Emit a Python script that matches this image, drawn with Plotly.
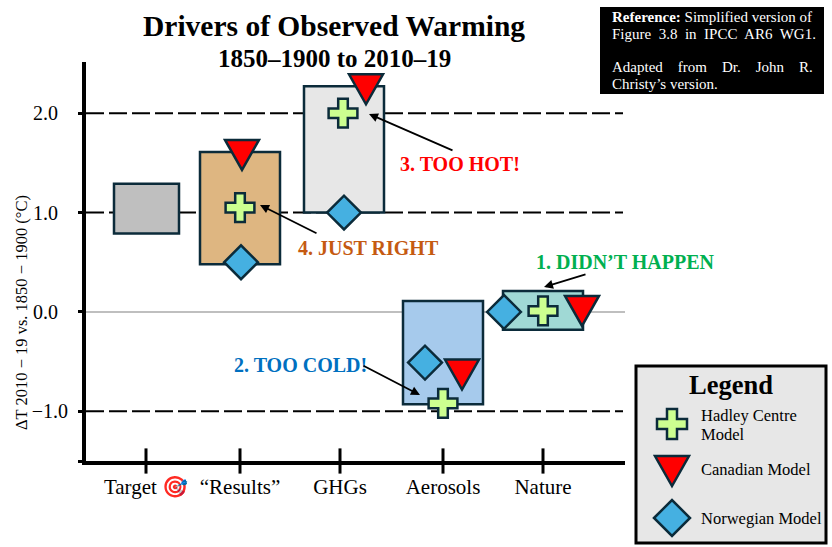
import plotly.graph_objects as go

#Chart values
categories = ['Target 🎯', '“Results”', 'GHGs', 'Aerosols', 'Nature']
tick_x = [0.0, 0.94, 1.94, 2.97, 3.97]
bar_x = [0.005, 0.94, 1.98, 2.97, 3.97]
bar_width = [0.65, 0.8, 0.8, 0.8, 0.8]
bar_low = [0.79, 0.48, 1.0, -0.93, -0.18]
bar_high = [1.29, 1.61, 2.27, 0.11, 0.21]
bar_colors = ['#BFBFBF', '#DEB681', '#E7E7E7', '#A6CAEC', '#A0D9D5']

hadley_x = [0.94, 1.97, 2.97, 3.97]
hadley_y = [1.05, 2.0, -0.92, 0.01]
canadian_x = [0.96, 2.2, 3.16, 4.36]
canadian_y = [1.59, 2.25, -0.62, 0.02]
norwegian_x = [0.95, 1.98, 2.79, 3.58]
norwegian_y = [0.5, 1.0, -0.51, 0.0]

dashed_levels = [2.0, 1.0, -1.0]
y_ticks = [2.0, 1.0, 0.0, -1.0, -1.5]
y_labels = ['2.0&nbsp;&nbsp;', '1.0&nbsp;&nbsp;', '0.0&nbsp;&nbsp;', '−1.0', '']

FONT = 'Liberation Serif'
NAVY = '#0B2B3A'
CROSS_PATH = 'M-5,15 L5,15 L5,5 L15,5 L15,-5 L5,-5 L5,-15 L-5,-15 L-5,-5 L-15,-5 L-15,5 L-5,5 Z'
TRIANGLE_PATH = 'M-17,14 L17,14 L0,-16 Z'
DIAMOND_PATH = 'M-18,0 L0,18 L18,0 L0,-18 Z'


#The page is laid out in pixels, so convert those to paper coordinates
def px(x):
    return (x - 86) / 539


def py(y):
    return (461 - y) / 399


def glyph(path, fill, x, y, xref='x', yref='y'):
    return dict(type='path', path=path, xsizemode='pixel', ysizemode='pixel', xanchor=x, yanchor=y,
                xref=xref, yref=yref, fillcolor=fill, line=dict(color=NAVY, width=2.5), layer='above')


def label(text, x, y, size, color='black', bold=False, anchor='center'):
    if bold:
        text = '<b>' + text + '</b>'
    return dict(text=text, x=px(x), y=py(y), xref='paper', yref='paper', showarrow=False, xanchor=anchor,
                yanchor='middle', font=dict(family=FONT, size=size, color=color))


def arrow(tail_x, tail_y, head_x, head_y):
    return dict(text='', x=px(head_x), y=py(head_y), xref='paper', yref='paper', ax=tail_x - head_x, ay=tail_y - head_y,
                axref='pixel', ayref='pixel', showarrow=True, arrowhead=2, arrowsize=1, arrowwidth=1.8, arrowcolor='black')


fig = go.Figure()

fig.add_trace(go.Bar(x=bar_x, y=[h - l for h, l in zip(bar_high, bar_low)], base=bar_low, width=bar_width,
                     marker=dict(color=bar_colors, line=dict(color=NAVY, width=2.5)), showlegend=False))
fig.add_trace(go.Scatter(x=tick_x, y=[-1.5] * len(tick_x), mode='markers', cliponaxis=False, showlegend=False,
                         marker=dict(symbol='line-ns', size=18, line=dict(color='black', width=3))))
fig.add_trace(go.Scatter(x=norwegian_x, y=norwegian_y, mode='markers', cliponaxis=False, name='Norwegian Model', showlegend=False,
                         marker=dict(symbol='diamond', size=26, color='#45B0E1', line=dict(color=NAVY, width=2.5))))
fig.add_trace(go.Scatter(x=hadley_x, y=hadley_y, mode='markers', cliponaxis=False, name='Hadley Centre Model', showlegend=False,
                         marker=dict(symbol='cross', size=24, color='#CCFF90', line=dict(color=NAVY, width=2.5))))
fig.add_trace(go.Scatter(x=canadian_x, y=canadian_y, mode='markers', cliponaxis=False, name='Canadian Model', showlegend=False,
                         marker=dict(symbol='triangle-down', size=22, color='#FF0000')))

shapes = []
for level in dashed_levels:
    shapes.append(dict(type='line', xref='paper', yref='y', x0=0, x1=px(623), y0=level, y1=level, layer='below',
                       line=dict(color='black', width=2, dash='18px,5px')))
shapes.append(dict(type='line', xref='paper', yref='y', x0=0, x1=1, y0=0, y1=0, layer='below',
                   line=dict(color='#BFBFBF', width=2)))
#The marker triangle is too squat, so the taller outline goes on top of it
for cx, cy in zip(canadian_x, canadian_y):
    shapes.append(glyph(TRIANGLE_PATH, '#FF0000', cx, cy))

#Reference note and legend panel
shapes.append(dict(type='rect', xref='paper', yref='paper', x0=px(600), x1=px(824), y0=py(94), y1=py(7),
                   fillcolor='black', line=dict(width=0)))
shapes.append(dict(type='rect', xref='paper', yref='paper', x0=px(636), x1=px(826), y0=py(543), y1=py(366),
                   fillcolor='#E7E7E7', line=dict(color='black', width=3)))
shapes.append(glyph(CROSS_PATH, '#CCFF90', px(672), py(424), 'paper', 'paper'))
shapes.append(glyph(TRIANGLE_PATH, '#FF0000', px(672), py(470), 'paper', 'paper'))
shapes.append(glyph(DIAMOND_PATH, '#45B0E1', px(672), py(518), 'paper', 'paper'))

annotations = [
    label('Drivers of Observed Warming', 334, 26, 29.5, bold=True),
    label('1850–1900 to 2010–19', 334, 58, 25, bold=True),
    label('ΔT 2010 − 19 vs. 1850 − 1900 (°C)', 21, 313, 16.5),
    label('3. TOO HOT!', 460, 164, 20, '#FF0000', True),
    label('4. JUST RIGHT', 368, 248, 20, '#C55A11', True),
    label('1. DIDN’T HAPPEN', 625, 262, 20, '#00B050', True),
    label('2. TOO COLD!', 300, 365, 20, '#0070C0', True),
    arrow(454, 151, 369, 114),
    arrow(318, 234, 260, 205),
    arrow(587, 274, 544, 287),
    arrow(362, 365, 420, 395),
    label('<b>Reference:</b> Simplified version of', 610, 17, 15, 'white', anchor='left'),
    label('Figure&nbsp; 3.8&nbsp; in&nbsp; IPCC&nbsp; AR6&nbsp; WG1.', 610, 34, 15, 'white', anchor='left'),
    label('Adapted&nbsp;&nbsp;&nbsp; from&nbsp;&nbsp;&nbsp; Dr.&nbsp;&nbsp;&nbsp; John&nbsp;&nbsp;&nbsp; R.', 610, 67, 15, 'white', anchor='left'),
    label('Christy’s version.', 610, 84, 15, 'white', anchor='left'),
    label('Legend', 731, 385, 26.5, bold=True),
    label('Hadley Centre', 699, 415, 16.5, anchor='left'),
    label('Model', 699, 434, 16.5, anchor='left'),
    label('Canadian Model', 699, 469, 16.5, anchor='left'),
    label('Norwegian Model', 699, 518, 16.5, anchor='left'),
]
annotations[2]['textangle'] = -90

fig.update_layout(
    width=832,
    height=547,
    margin=dict(l=86, r=207, t=62, b=86),
    autosize=False,
    paper_bgcolor='white',
    plot_bgcolor='white',
    barmode='overlay',
    font=dict(family=FONT, color='black'),
    shapes=shapes,
    annotations=annotations,
)
fig.update_xaxes(range=[-0.6, 4.79], tickvals=tick_x, ticktext=categories, ticks='', showgrid=False, zeroline=False,
                 showline=True, linecolor='black', linewidth=4, tickfont=dict(family=FONT, size=21), ticklabelstandoff=4)
fig.update_yaxes(range=[-1.5, 2.515], tickvals=y_ticks, ticktext=y_labels, ticks='outside', ticklen=4, tickwidth=3, tickcolor='black',
                 showgrid=False, zeroline=False, showline=True, linecolor='black', linewidth=4, tickfont=dict(family=FONT, size=20), ticklabelstandoff=6)

fig.write_html("out.html", config=dict(displayModeBar=False), post_script="document.body.style.margin = '0';")
